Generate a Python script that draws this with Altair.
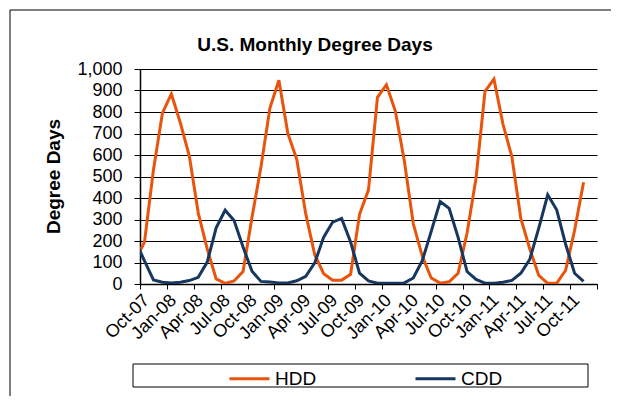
import altair as alt
import pandas as pd

FONT = "Liberation Sans, Arial, sans-serif"
ORANGE = "#E9540D"
NAVY = "#17375E"

months = ["Sep-07", "Oct-07", "Nov-07", "Dec-07",
          "Jan-08", "Feb-08", "Mar-08", "Apr-08", "May-08", "Jun-08",
          "Jul-08", "Aug-08", "Sep-08", "Oct-08", "Nov-08", "Dec-08",
          "Jan-09", "Feb-09", "Mar-09", "Apr-09", "May-09", "Jun-09",
          "Jul-09", "Aug-09", "Sep-09", "Oct-09", "Nov-09", "Dec-09",
          "Jan-10", "Feb-10", "Mar-10", "Apr-10", "May-10", "Jun-10",
          "Jul-10", "Aug-10", "Sep-10", "Oct-10", "Nov-10", "Dec-10",
          "Jan-11", "Feb-11", "Mar-11", "Apr-11", "May-11", "Jun-11",
          "Jul-11", "Aug-11", "Sep-11", "Oct-11", "Nov-11"]

hdd = [110, 195, 530, 795,
       884, 750, 596, 331, 163, 24,
       3, 14, 58, 310, 545, 818,
       948, 700, 578, 326, 136, 48,
       18, 18, 45, 324, 438, 868,
       927, 803, 572, 280, 130, 28,
       4, 10, 50, 237, 492, 896,
       953, 745, 592, 305, 163, 40,
       3, 3, 64, 250, 473]

cdd = [198, 108, 19, 8,
       5, 8, 16, 31, 102, 261,
       343, 295, 172, 59, 12, 9,
       5, 5, 15, 36, 98, 218,
       288, 305, 195, 50, 14, 4,
       3, 3, 5, 28, 108, 245,
       384, 352, 217, 58, 21, 4,
       4, 8, 17, 50, 115, 260,
       415, 345, 185, 50, 12]

tick_labels = ["Oct-07", "Jan-08", "Apr-08", "Jul-08", "Oct-08", "Jan-09",
               "Apr-09", "Jul-09", "Oct-09", "Jan-10", "Apr-10", "Jul-10",
               "Oct-10", "Jan-11", "Apr-11", "Jul-11", "Oct-11"]

series_names = ["HDD", "CDD"]

# month position: mid-month, measured in months from Oct-07 (axis start)
pos = [i - 0.5 for i in range(len(months))]

rows = []
for name, vals in zip(series_names, [hdd, cdd]):
    for m, t, v in zip(months, pos, vals):
        rows.append({"month": m, "t": t, "series": name, "value": v})
df = pd.DataFrame(rows)

n_months = len(tick_labels) * 3
label_js = "[" + ",".join("'" + s + "'" for s in tick_labels) + "]"
label_expr = f"datum.value < {n_months} ? {label_js}[round(datum.value/3)] : ''"

lines = alt.Chart(df).mark_line(strokeWidth=3, clip=True).encode(
    x=alt.X("t:Q",
            scale=alt.Scale(domain=[0, n_months], nice=False, zero=False),
            axis=alt.Axis(values=list(range(0, n_months + 1, 3)),
                          labelExpr=label_expr, labelAngle=-45,
                          labelAlign="right", labelBaseline="top",
                          labelFontSize=18, labelFont=FONT, labelColor="black",
                          labelOverlap=False, labelBound=False, labelFlush=False,
                          labelPadding=2, tickSize=5, tickColor="black",
                          domainColor="black", domainWidth=1.5, grid=False,
                          title=None)),
    y=alt.Y("value:Q",
            scale=alt.Scale(domain=[0, 1000], nice=False),
            axis=alt.Axis(values=list(range(0, 1001, 100)), format=",.0f",
                          labelFontSize=18, labelFont=FONT, labelColor="black",
                          labelOverlap=False, labelPadding=12,
                          tickSize=6, tickColor="black",
                          domainColor="black", domainWidth=1.5,
                          grid=True, gridColor="black", gridWidth=1.2,
                          title="Degree Days", titleFont=FONT, titleFontSize=19,
                          titleFontWeight="bold", titleColor="black",
                          titleAngle=270, titleX=-87, titleY=107,
                          titleAlign="center", titleBaseline="middle")),
    color=alt.Color("series:N",
                    scale=alt.Scale(domain=series_names, range=[ORANGE, NAVY]),
                    legend=alt.Legend(title=None, orient="none", legendX=88,
                                      legendY=288, direction="horizontal",
                                      symbolType="stroke", symbolSize=1600,
                                      symbolStrokeWidth=3, labelFontSize=19,
                                      labelFont=FONT, labelColor="black",
                                      labelOffset=4, columnPadding=92,
                                      padding=0)),
)

one = pd.DataFrame({"a": [0]})

frame = alt.Chart(one).mark_rect(fillOpacity=0, stroke="black", strokeWidth=1).encode(
    x=alt.value(-130), x2=alt.value(480), y=alt.value(-59), y2=alt.value(400))

legend_box = alt.Chart(one).mark_rect(fillOpacity=0, stroke="black", strokeWidth=1).encode(
    x=alt.value(-7), x2=alt.value(448), y=alt.value(295), y2=alt.value(318))

title = alt.Chart(one).mark_text(text="U.S. Monthly Degree  Days", font=FONT,
                                 fontSize=19, fontWeight="bold", color="black",
                                 align="center", baseline="alphabetic").encode(
    x=alt.value(175), y=alt.value(-18))

chart = alt.layer(frame, legend_box, lines, title).properties(
    width=457, height=215,
    autosize=alt.AutoSizeParams(type="none"),
    padding={"left": 132, "top": 61, "right": 14, "bottom": 112},
    background="white",
).configure_view(stroke=None)

chart.save("out.html", embed_options={"renderer": "svg", "actions": False})
